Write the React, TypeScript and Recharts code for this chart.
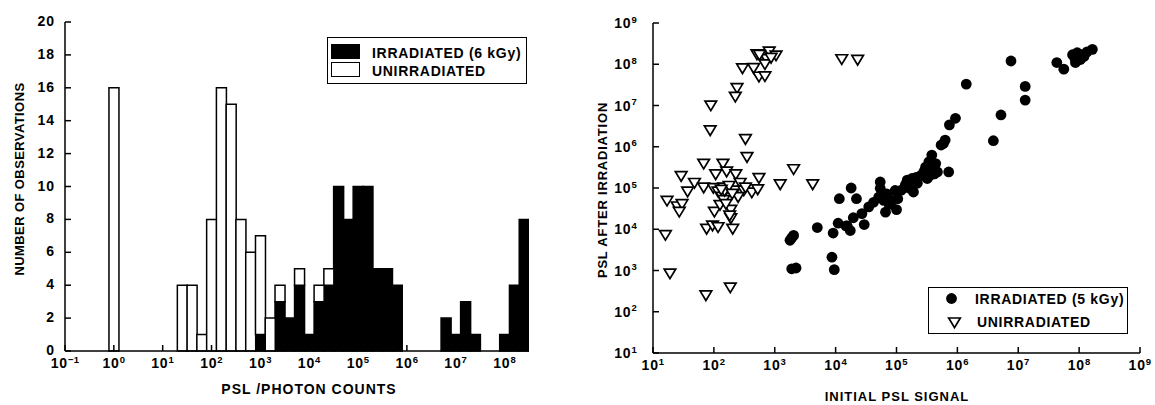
import React from 'react';
import { BarChart, Bar, XAxis, YAxis, ScatterChart, Scatter, Legend, Label } from 'recharts';

// ---------- Histogram data (bin centres are log10 of PSL / photon counts) ----------
const binCenters = [0.0, 0.2, 0.4, 0.6, 0.8, 1.0, 1.2, 1.4, 1.6, 1.8, 2.0, 2.2, 2.4, 2.6, 2.8, 3.0, 3.2, 3.4, 3.6, 3.8, 4.0, 4.2, 4.4, 4.6, 4.8, 5.0, 5.2, 5.4, 5.6, 5.8, 6.0, 6.2, 6.4, 6.6, 6.8, 7.0, 7.2, 7.4, 7.6, 7.8, 8.0, 8.2, 8.4];
const irradiatedCounts = [0, 0, 0, 0, 0, 0, 0, 0, 0, 0, 0, 0, 0, 0, 0, 1, 0, 3, 2, 4, 1, 3, 4, 10, 8, 10, 10, 5, 5, 4, 0, 0, 0, 0, 2, 1, 3, 1, 0, 0, 1, 4, 8];
const unirradiatedCounts = [16, 0, 0, 0, 0, 0, 0, 4, 4, 1, 8, 16, 15, 8, 6, 6, 2, 1, 0, 1, 0, 1, 1, 0, 0, 0, 0, 0, 0, 0, 0, 0, 0, 0, 0, 0, 0, 0, 0, 0, 0, 0, 0];
const histXTicks = [-1, 0, 1, 2, 3, 4, 5, 6, 7, 8];
const histYTicks = [0, 2, 4, 6, 8, 10, 12, 14, 16, 18, 20];

// ---------- Scatter data: [initial PSL signal, PSL after irradiation] ----------
const irradiatedPoints: [number, number][] = [
  [1900, 6.2e3], [1780, 5.4e3], [2040, 7.1e3], [1900, 1100], [2240, 1150], [5000, 1.1e4], [9100, 8.1e3], [8700, 2.1e3], [9500, 1.05e3],
  [11500, 5.5e4], [18000, 1.0e5], [11000, 1.4e4], [14800, 1.2e4], [17400, 9.3e3], [22000, 5.5e4], [15500, 1.2e4], [19500, 1.9e4],
  [27000, 2.4e4], [29500, 1.3e4], [35000, 3.5e4], [54000, 1.4e5], [54000, 9.8e4], [51000, 6.0e4], [62000, 5.0e4], [66000, 2.6e4],
  [69000, 7.2e4], [95000, 8.7e4], [1.0e5, 3.0e4], [1.05e5, 5.5e4], [85000, 5.0e4], [1.4e5, 1.2e5], [1.5e5, 1.55e5], [1.8e5, 1.7e5],
  [1.9e5, 8.0e4], [2.2e5, 1.3e5], [2.5e5, 2.0e5], [3.2e5, 1.7e5], [3.0e5, 3.2e5], [3.4e5, 4.3e5], [3.8e5, 6.3e5], [4.4e5, 3.9e5],
  [4.7e5, 2.45e5], [5.4e5, 1.1e6], [6.3e5, 1.45e6], [7.2e5, 2.45e5], [3.8e5, 2.75e5], [2.8e5, 2.45e5], [1.4e6, 3.3e7], [7.6e6, 1.2e8],
  [7.4e5, 3.4e6], [9.3e5, 4.9e6], [5.9e5, 1.2e6], [5.2e6, 5.9e6], [3.9e6, 1.4e6], [1.3e7, 2.9e7], [1.3e7, 1.35e7], [4.3e7, 1.1e8],
  [5.6e7, 7.6e7], [7.8e7, 1.7e8], [9.3e7, 1.9e8], [1.1e8, 1.7e8], [1.35e8, 2.0e8], [1.65e8, 2.3e8], [8.7e7, 1.1e8], [1.05e8, 1.3e8],
  [8.5e7, 1.4e8], [1.2e8, 1.55e8], [60000, 7.2e4], [76000, 4.0e4], [42000, 4.5e4], [1.2e5, 8.9e4], [1.6e5, 1.0e5], [2.1e5, 1.8e5],
  [3.5e5, 2.0e5], [4.2e5, 2.2e5],
];
const unirradiatedPoints: [number, number][] = [
  [510, 1.7e8], [620, 1.55e8], [810, 2.0e8], [1050, 1.6e8], [740, 1.3e8], [690, 9.8e7], [870, 1.4e8], [560, 1.65e8],
  [295, 7.8e7], [450, 7.9e7], [550, 4.9e7], [690, 5.0e7], [240, 2.6e7], [225, 1.6e7], [89, 9.8e6], [87, 2.45e6], [330, 1.5e6],
  [12600, 1.3e8], [23000, 1.25e8], [350, 5.5e5],
  [68, 3.8e5], [141, 3.8e5], [2040, 2.8e5], [29, 1.9e5], [107, 2.1e5], [162, 2.45e5], [229, 2.1e5], [550, 1.7e5],
  [48, 1.3e5], [68, 1.0e5], [98, 9.8e4], [145, 1.0e5], [270, 1.3e5], [1230, 1.2e5], [4200, 1.2e5],
  [37, 8.0e4], [117, 8.0e4], [224, 8.5e4], [310, 8.5e4], [420, 7.6e4], [525, 9.1e4], [250, 5.9e4], [135, 6.0e4],
  [17, 4.8e4], [25, 3.5e4], [30, 4.0e4], [27, 2.6e4], [102, 2.6e4], [126, 3.8e4], [145, 5.0e4], [190, 2.9e4], [190, 1.8e4],
  [76, 1.0e4], [95, 1.2e4], [117, 1.1e4], [204, 1.0e4], [16, 7.1e3], [19, 830], [186, 380], [74, 245],
  [150, 8.3e4], [178, 1.1e5], [200, 7.1e4], [158, 4.0e4], [132, 8.9e4], [330, 1.0e5], [182, 2.1e4],
];
const scatterTicks = [1e1, 1e2, 1e3, 1e4, 1e5, 1e6, 1e7, 1e8, 1e9];

const histData = binCenters.map((c, i) => ({ c, irr: irradiatedCounts[i], unirr: unirradiatedCounts[i] }));
const irrData = irradiatedPoints.map(([x, y]) => ({ x, y }));
const unirrData = unirradiatedPoints.map(([x, y]) => ({ x, y }));

const FONT = "'Liberation Sans', Arial, Helvetica, sans-serif";
const txt = (size: number, spacing: number): React.CSSProperties => ({
  fontFamily: FONT,
  fontWeight: 'bold',
  fill: '#000',
  fontSize: size,
  letterSpacing: spacing,
});
const axisLine = { stroke: '#000', strokeWidth: 1.5 };
const tickLine = { stroke: '#000', strokeWidth: 1.5 };

const expLabel = (n: number) => (n < 0 ? '\u2212' + Math.abs(n) : String(n));

const PowerTickX = (props: any) => {
  const { x, y, payload, log } = props;
  const n = log ? Math.round(Math.log10(payload.value)) : payload.value;
  return (
    <text x={x} y={y + 2} textAnchor="middle" style={txt(14, 0.8)}>
      10<tspan dy={-5.5} style={txt(9.5, 0.3)}>{expLabel(n)}</tspan>
    </text>
  );
};

const PowerTickY = (props: any) => {
  const { x, y, payload } = props;
  const n = Math.round(Math.log10(payload.value));
  return (
    <text x={x} y={y + 5} textAnchor="end" style={txt(14, 0.8)}>
      10<tspan dy={-5.5} style={txt(9.5, 0.3)}>{expLabel(n)}</tspan>
    </text>
  );
};

const CountTick = (props: any) => {
  const { x, y, payload } = props;
  return (
    <text x={x} y={y + 4} textAnchor="end" style={txt(14, 1)}>
      {payload.value}
    </text>
  );
};

const DownTriangle = (props: any) => {
  const { cx, cy } = props;
  if (cx == null || cy == null) return null;
  const w = 5.8;
  const h = 4.8;
  return (
    <path
      d={`M${cx - w},${cy - h}L${cx + w},${cy - h}L${cx},${cy + h}Z`}
      fill="#fff"
      stroke="#000"
      strokeWidth={1.7}
    />
  );
};

const Dot = (props: any) => {
  const { cx, cy } = props;
  if (cx == null || cy == null) return null;
  return <circle cx={cx} cy={cy} r={5.4} fill="#000" />;
};

const legendText: React.CSSProperties = {
  position: 'absolute',
  fontFamily: FONT,
  fontWeight: 'bold',
  fontSize: 14,
  letterSpacing: 0.7,
  lineHeight: '14px',
  whiteSpace: 'nowrap',
  color: '#000',
};

const HistLegend = () => (
  <div style={{ position: 'relative', width: 200, height: 47, border: '1.5px solid #000', boxSizing: 'border-box', background: '#fff' }}>
    <div style={{ position: 'absolute', left: 3, top: 6, width: 29, height: 15, background: '#000' }} />
    <div style={{ position: 'absolute', left: 3, top: 24, width: 29, height: 15, border: '1.5px solid #000', boxSizing: 'border-box', background: '#fff' }} />
    <span style={{ ...legendText, left: 44, top: 8 }}>IRRADIATED (6 kGy)</span>
    <span style={{ ...legendText, left: 44, top: 26 }}>UNIRRADIATED</span>
  </div>
);

const ScatterLegend = () => (
  <div style={{ position: 'relative', width: 200, height: 47, border: '1.5px solid #000', boxSizing: 'border-box', background: '#fff' }}>
    <svg style={{ position: 'absolute', left: 0, top: 0 }} width={45} height={45}>
      <circle cx={22.5} cy={10.5} r={5.4} fill="#000" />
      <path d="M19.7,30L31.3,30L25.5,39.6Z" fill="#fff" stroke="#000" strokeWidth={1.7} />
    </svg>
    <span style={{ ...legendText, left: 46, top: 4 }}>IRRADIATED (5 kGy)</span>
    <span style={{ ...legendText, left: 48, top: 27 }}>UNIRRADIATED</span>
  </div>
);

export default function App() {
  return (
    <div style={{ position: 'absolute', left: 0, top: 0, width: 1155, height: 405, background: '#fff', overflow: 'hidden' }}>
      <div style={{ position: 'absolute', left: 0, top: 0 }}>
        <BarChart
          width={560}
          height={405}
          data={histData}
          margin={{ top: 22, right: 31, bottom: 0, left: 0 }}
          barCategoryGap={0}
          barGap={0}
        >
          <XAxis
            dataKey="c"
            type="number"
            domain={[-1, 8.5]}
            ticks={histXTicks}
            interval={0}
            allowDataOverflow
            height={54}
            axisLine={axisLine}
            tickLine={tickLine}
            tickSize={-6}
            tickMargin={21}
            tick={(p: any) => <PowerTickX {...p} />}
          >
            <Label
              content={() => (
                <text x={309} y={394} textAnchor="middle" style={txt(14, 1)}>
                  PSL /PHOTON COUNTS
                </text>
              )}
            />
          </XAxis>
          <XAxis
            xAxisId="top"
            dataKey="c"
            type="number"
            orientation="top"
            domain={[-1, 8.5]}
            ticks={histXTicks}
            interval={0}
            allowDataOverflow
            height={0}
            axisLine={axisLine}
            tickLine={tickLine}
            tickSize={-6}
            tick={false}
          />
          <YAxis
            type="number"
            domain={[0, 20]}
            ticks={histYTicks}
            interval={0}
            width={65}
            axisLine={axisLine}
            tickLine={tickLine}
            tickSize={-6}
            tickMargin={16}
            tick={(p: any) => <CountTick {...p} />}
          >
            <Label
              content={() => (
                <text x={24} y={179} transform="rotate(-90, 24, 179)" textAnchor="middle" style={txt(13, 0.4)}>
                  NUMBER OF OBSERVATIONS
                </text>
              )}
            />
          </YAxis>
          <Bar dataKey="irr" stackId="h" fill="#000" stroke="#000" strokeWidth={1.5} isAnimationActive={false} />
          <Bar dataKey="unirr" stackId="h" fill="#fff" stroke="#000" strokeWidth={1.5} isAnimationActive={false} />
          <Legend
            verticalAlign="middle"
            align="center"
            layout="horizontal"
            wrapperStyle={{ left: 327, top: 37, width: 200, height: 47 }}
            content={() => <HistLegend />}
          />
        </BarChart>
      </div>

      <div style={{ position: 'absolute', left: 580, top: 0 }}>
        <ScatterChart width={575} height={405} margin={{ top: 23, right: 15, bottom: 0, left: 0 }}>
          <XAxis
            dataKey="x"
            type="number"
            scale="log"
            domain={[1e1, 1e9]}
            ticks={scatterTicks}
            interval={0}
            allowDataOverflow
            height={52}
            axisLine={axisLine}
            tickLine={tickLine}
            tickSize={-6}
            tickMargin={21}
            tick={(p: any) => <PowerTickX {...p} log />}
          >
            <Label
              content={() => (
                <text x={317} y={401} textAnchor="middle" style={txt(13, 1)}>
                  INITIAL PSL SIGNAL
                </text>
              )}
            />
          </XAxis>
          <XAxis
            xAxisId="top"
            dataKey="x"
            type="number"
            scale="log"
            orientation="top"
            domain={[1e1, 1e9]}
            ticks={scatterTicks}
            interval={0}
            allowDataOverflow
            height={0}
            axisLine={axisLine}
            tickLine={tickLine}
            tickSize={-6}
            tick={false}
          />
          <YAxis
            dataKey="y"
            type="number"
            scale="log"
            domain={[1e1, 1e9]}
            ticks={scatterTicks}
            interval={0}
            allowDataOverflow
            width={73}
            axisLine={axisLine}
            tickLine={tickLine}
            tickSize={-6}
            tickMargin={22}
            tick={(p: any) => <PowerTickY {...p} />}
          >
            <Label
              content={() => (
                <text x={27} y={190} transform="rotate(-90, 27, 190)" textAnchor="middle" style={txt(13, 0.8)}>
                  PSL AFTER IRRADIATION
                </text>
              )}
            />
          </YAxis>
          <YAxis
            yAxisId="right"
            dataKey="y"
            type="number"
            scale="log"
            orientation="right"
            domain={[1e1, 1e9]}
            ticks={scatterTicks}
            interval={0}
            allowDataOverflow
            width={0}
            axisLine={axisLine}
            tickLine={tickLine}
            tickSize={-6}
            tick={false}
          />
          <Scatter name="UNIRRADIATED" data={unirrData} shape={(p: any) => <DownTriangle {...p} />} isAnimationActive={false} />
          <Scatter name="IRRADIATED (5 kGy)" data={irrData} fill="#000" shape={(p: any) => <Dot {...p} />} isAnimationActive={false} />
          <Legend
            verticalAlign="middle"
            align="center"
            layout="horizontal"
            wrapperStyle={{ left: 348, top: 287, width: 200, height: 47 }}
            content={() => <ScatterLegend />}
          />
        </ScatterChart>
      </div>
    </div>
  );
}
